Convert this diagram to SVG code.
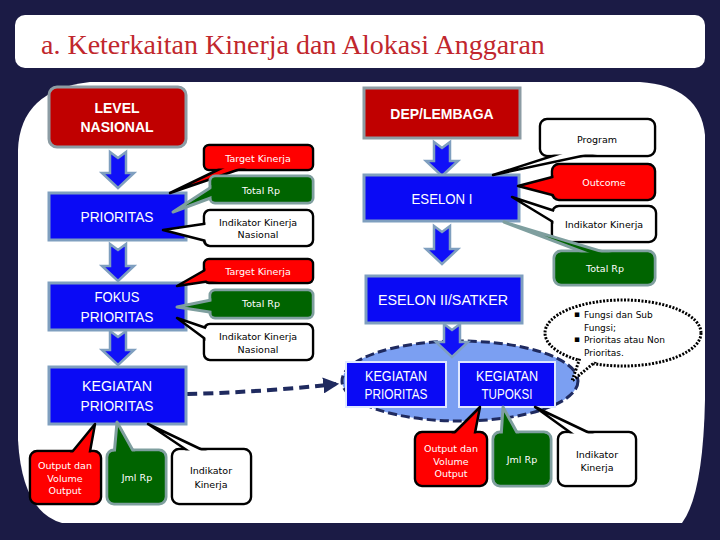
<svg xmlns="http://www.w3.org/2000/svg" width="720" height="540" viewBox="0 0 720 540">
<style>
.bg{fill:#1b1b45}
.nb{fill:#0a0af5;stroke:#7f9fbf;stroke-width:3}
.nr{fill:#c00000;stroke:#8c9ca4;stroke-width:3}
.ar{fill:#1010f8;stroke:#7f9fbf;stroke-width:2.5;stroke-linejoin:miter}
.cr{fill:#ff0000;stroke:#000;stroke-width:2.5;stroke-linejoin:round}
.cw{fill:#fff;stroke:#000;stroke-width:2.5;stroke-linejoin:round}
.cg{fill:#006400;stroke:#7f9f9f;stroke-width:3;stroke-linejoin:round}
.fr{fill:#ff0000}.fw{fill:#fff}.fg{fill:#006400}
.nt{font-family:"Liberation Sans",Arial,sans-serif;font-size:15px;fill:#fff;text-anchor:middle}
.bt{font-family:"Liberation Sans",Arial,sans-serif;font-size:14px;font-weight:bold;fill:#fff;text-anchor:middle}
.ct{font-family:"DejaVu Sans",sans-serif;font-size:9.5px;text-anchor:middle}
.w{fill:#fff}.k{fill:#000}
</style>
<defs>
<marker id="ah" viewBox="0 0 10 10" refX="8" refY="5" markerWidth="4" markerHeight="4" orient="auto">
<path d="M0,0 L10,5 L0,10 z" fill="#1f2a5f"/>
</marker>
</defs>
<rect class="bg" x="0" y="0" width="720" height="540"/>
<rect x="15" y="15" width="690" height="53" rx="10" fill="#fff"/>
<text x="41" y="54" font-family="Liberation Serif,Times New Roman,serif" font-size="28" fill="#c1272d">a. Keterkaitan Kinerja dan Alokasi Anggaran</text>
<path d="M90,82 L640,82 Q700,86 705,135 L705,400 Q703,495 682,523 L62,523 Q22,512 18,440 L18,150 Q20,90 90,82 Z" fill="#fff"/>

<g id="connectors">
<polygon class="ar" points="110,152 118,158 126,152 126,173 134,173 118,188 102,173 110,173"/>
<polygon class="ar" points="110,244 118,250 126,244 126,266 134,266 118,281 102,266 110,266"/>
<polygon class="ar" points="110,331 118,337 126,331 126,350 134,350 118,365 102,350 110,350"/>
<polygon class="ar" points="434,142 442,148 450,142 450,161 458,161 442,176 426,161 434,161"/>
<polygon class="ar" points="434,226 442,232 450,226 450,249 458,249 442,264 426,249 434,249"/>
<path d="M187,394 Q265,392 336,384" fill="none" stroke="#1f2a5f" stroke-width="4" stroke-dasharray="10,6" marker-end="url(#ah)"/>
</g>

<g id="level-nasional"><rect class="nr" x="49" y="87" width="137" height="60" rx="8"/><text class="bt" x="117" y="113">LEVEL</text><text class="bt" x="117" y="132">NASIONAL</text></g>
<g id="dep-lembaga"><rect class="nr" x="364" y="88" width="156" height="50"/><text class="bt" x="442" y="119">DEP/LEMBAGA</text></g>
<g id="prioritas"><rect class="nb" x="49" y="193" width="137" height="47"/><text class="nt" x="117" y="222" textLength="73" lengthAdjust="spacingAndGlyphs">PRIORITAS</text></g>
<g id="fokus-prioritas"><rect class="nb" x="49" y="283" width="137" height="47"/><text class="nt" x="117" y="302" textLength="45" lengthAdjust="spacingAndGlyphs">FOKUS</text><text class="nt" x="117" y="322" textLength="73" lengthAdjust="spacingAndGlyphs">PRIORITAS</text></g>
<g id="kegiatan-prioritas-l"><rect class="nb" x="49" y="367" width="137" height="57"/><text class="nt" x="117" y="391" textLength="70" lengthAdjust="spacingAndGlyphs">KEGIATAN</text><text class="nt" x="117" y="411" textLength="73" lengthAdjust="spacingAndGlyphs">PRIORITAS</text></g>
<g id="eselon-1"><rect class="nb" x="364" y="175" width="155" height="46"/><text class="nt" x="442" y="204" textLength="61" lengthAdjust="spacingAndGlyphs">ESELON I</text></g>
<g id="eselon-2"><rect class="nb" x="366" y="276" width="156" height="47"/><text class="nt" x="443" y="305" textLength="130" lengthAdjust="spacingAndGlyphs">ESELON II/SATKER</text></g>

<g id="kegiatan-group">
<ellipse cx="460" cy="381" rx="118" ry="40" fill="#7b9ff2" stroke="#1f2a5f" stroke-width="3" stroke-dasharray="9,4"/>
<polygon class="ar" points="444,324 452,330 460,324 460,342 468,342 452,357 436,342 444,342"/>
<rect x="346" y="362" width="100" height="45" fill="#0a0af5" stroke="#dfe8ff" stroke-width="2"/>
<text class="nt" x="396" y="381" font-size="14" textLength="62" lengthAdjust="spacingAndGlyphs">KEGIATAN</text>
<text class="nt" x="396" y="399" font-size="14" textLength="63" lengthAdjust="spacingAndGlyphs">PRIORITAS</text>
<rect x="459" y="362" width="96" height="45" fill="#0a0af5" stroke="#dfe8ff" stroke-width="2"/>
<text class="nt" x="507" y="381" font-size="14" textLength="62" lengthAdjust="spacingAndGlyphs">KEGIATAN</text>
<text class="nt" x="507" y="399" font-size="14" textLength="51" lengthAdjust="spacingAndGlyphs">TUPOKSI</text>
</g>

<g id="target-kinerja-1"><rect class="cr" x="204" y="145" width="109" height="25" rx="5"/><polygon class="cr" points="170,193 228,165 252,165"/><rect class="fr" x="205.5" y="146.5" width="106" height="22" rx="4"/><text class="ct w" x="258" y="161.5">Target Kinerja</text></g>
<g id="total-rp-1"><rect class="cg" x="210" y="176" width="103" height="27" rx="5"/><polygon class="cg" points="173,212 216,184 216,196"/><rect class="fg" x="211.5" y="177.5" width="100" height="24" rx="4"/><text class="ct w" x="261" y="194">Total  Rp</text></g>
<g id="indikator-nasional-1"><rect class="cw" x="204" y="210" width="109" height="36" rx="6"/><polygon class="cw" points="163,230 210,223 210,242"/><rect class="fw" x="205.5" y="211.5" width="106" height="33" rx="5"/><text class="ct k" x="258" y="225.5">Indikator Kinerja</text><text class="ct k" x="258" y="238">Nasional</text></g>

<g id="target-kinerja-2"><rect class="cr" x="204" y="259" width="109" height="24" rx="5"/><polygon class="cr" points="177,286 212,266 224,279"/><rect class="fr" x="205.5" y="260.5" width="106" height="21" rx="4"/><text class="ct w" x="258" y="275">Target Kinerja</text></g>
<g id="total-rp-2"><rect class="cg" x="210" y="290" width="103" height="28" rx="5"/><polygon class="cg" points="177,307 216,299 216,313"/><rect class="fg" x="211.5" y="291.5" width="100" height="25" rx="4"/><text class="ct w" x="261" y="307">Total  Rp</text></g>
<g id="indikator-nasional-2"><rect class="cw" x="204" y="324" width="109" height="36" rx="6"/><polygon class="cw" points="177,318 212,330 212,344"/><rect class="fw" x="205.5" y="325.5" width="106" height="33" rx="5"/><text class="ct k" x="258" y="340">Indikator Kinerja</text><text class="ct k" x="258" y="352.5">Nasional</text></g>

<g id="output-volume-1"><rect class="cr" x="30" y="451" width="71" height="53" rx="7"/><polygon class="cr" points="95,424 68,457 89,457"/><rect class="fr" x="31.5" y="452.5" width="68" height="50" rx="6"/><text class="ct w" x="65" y="469">Output dan</text><text class="ct w" x="65" y="481.5">Volume</text><text class="ct w" x="65" y="494">Output</text></g>
<g id="jml-rp-1"><rect class="cg" x="107" y="450" width="59" height="54" rx="7"/><polygon class="cg" points="117,422 114,456 136,456"/><rect class="fg" x="108.5" y="451.5" width="56" height="51" rx="6"/><text class="ct w" x="137" y="480.5">Jml Rp</text></g>
<g id="indikator-kinerja-1"><rect class="cw" x="172" y="449" width="79" height="55" rx="7"/><polygon class="cw" points="148,424 194,455 213,455"/><rect class="fw" x="173.5" y="450.5" width="76" height="52" rx="6"/><text class="ct k" x="211" y="474">Indikator</text><text class="ct k" x="211" y="487.5">Kinerja</text></g>

<g id="output-volume-2"><rect class="cr" x="415" y="432" width="72" height="54" rx="7"/><polygon class="cr" points="480,407 449,438 474,438"/><rect class="fr" x="416.5" y="433.5" width="69" height="51" rx="6"/><text class="ct w" x="451" y="452">Output dan</text><text class="ct w" x="451" y="465">Volume</text><text class="ct w" x="451" y="477">Output</text></g>
<g id="jml-rp-2"><rect class="cg" x="493" y="432" width="58" height="54" rx="7"/><polygon class="cg" points="503,407 501,438 520,438"/><rect class="fg" x="494.5" y="433.5" width="55" height="51" rx="6"/><text class="ct w" x="522" y="462.5">Jml Rp</text></g>
<g id="indikator-kinerja-2"><rect class="cw" x="558" y="432" width="78" height="54" rx="7"/><polygon class="cw" points="535,407 578,438 600,438"/><rect class="fw" x="559.5" y="433.5" width="75" height="51" rx="6"/><text class="ct k" x="597" y="457.5">Indikator</text><text class="ct k" x="597" y="470.5">Kinerja</text></g>

<g id="program"><rect class="cw" x="540" y="119" width="115" height="37" rx="7"/><polygon class="cw" points="493,175 571,150 610,150"/><rect class="fw" x="541.5" y="120.5" width="112" height="34" rx="6"/><text class="ct k" x="597" y="142.5">Program</text></g>
<g id="outcome"><rect class="cr" x="552" y="164" width="103" height="36" rx="7"/><polygon class="cr" points="518,186 560,175 560,197"/><rect class="fr" x="553.5" y="165.5" width="100" height="33" rx="6"/><text class="ct w" x="604" y="185.5">Outcome</text></g>
<g id="indikator-kinerja-3"><rect class="cw" x="552" y="206" width="104" height="36" rx="7"/><polygon class="cw" points="512,197 558,212 558,225"/><rect class="fw" x="553.5" y="207.5" width="101" height="33" rx="6"/><text class="ct k" x="604" y="228">Indikator Kinerja</text></g>
<g id="total-rp-3"><rect class="cg" x="554" y="251" width="101" height="34" rx="7"/><polygon class="cg" points="504,222 596,257 620,257"/><rect class="fg" x="555.5" y="252.5" width="98" height="31" rx="6"/><text class="ct w" x="605" y="272">Total  Rp</text></g>

<g id="fungsi-note">
<ellipse cx="623" cy="333" rx="78" ry="33" fill="#fff" stroke="#000" stroke-width="3" stroke-dasharray="2,1.5"/>
<polygon points="582,352 572,381 600,358" fill="#fff" stroke="#000" stroke-width="3" stroke-dasharray="2,1.5"/>
<ellipse cx="623" cy="333" rx="76" ry="31" fill="#fff"/>
<g font-family="DejaVu Sans,sans-serif" font-size="9" fill="#000">
<text x="574" y="317">▪</text><text x="584" y="317.5">Fungsi dan Sub</text>
<text x="584" y="330.5">Fungsi;</text>
<text x="574" y="342">▪</text><text x="584" y="342.5">Prioritas atau Non</text>
<text x="584" y="355.5">Prioritas.</text>
</g>
</g>
</svg>
